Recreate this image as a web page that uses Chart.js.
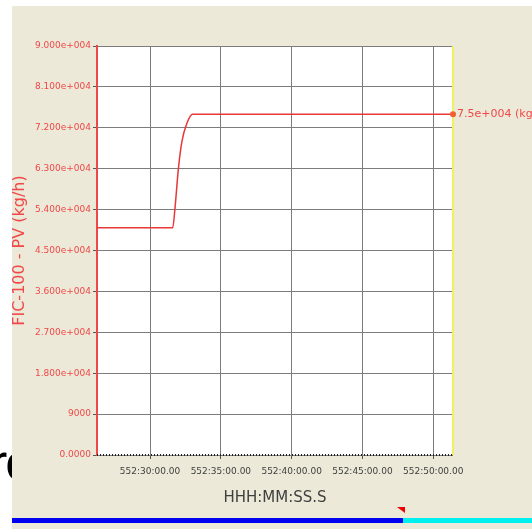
<!DOCTYPE html>
<html>
<head>
<meta charset="utf-8">
<script src="https://cdn.jsdelivr.net/npm/chart.js@4"></script>
<style>
  body { margin: 0; background: #fff; width: 532px; height: 529px; overflow: hidden; position: relative; font-family: "Liberation Sans", Arial, sans-serif; }
  #cut { position: absolute; left: -10px; top: 436px; font-size: 52px; line-height: 52px; color: #000; letter-spacing: -2px; }
  #panel { position: absolute; left: 12px; top: 6px; width: 520px; height: 523px; background: #ece9d8; }
  #statsChart { position: absolute; left: 0; top: 0; }
  .bar { position: absolute; top: 512px; height: 5px; }
  #blue { left: 0; width: 391px; background: #0000f0; }
  #cyan { left: 391px; width: 129px; background: #00f0f0; }
  #mark { position: absolute; left: 385px; top: 501px; width: 0; height: 0; border-left: 8px solid transparent; border-top: 6px solid #f00000; }
</style>
</head>
<body>
<div id="cut">re</div>
<div id="panel">
  <canvas id="statsChart" width="520" height="504"></canvas>
  <div class="bar" id="blue"></div>
  <div class="bar" id="cyan"></div>
  <div id="mark"></div>
</div>
<script>
// время в минутах после 552:00:00
const timeMin = [26.25, 31.6, 31.75, 32.0, 32.25, 32.6, 33.0, 51.4];
const pvValues = [50000, 50000, 54000, 63000, 69000, 73000, 75000, 75000];

const xTickValues = [30, 35, 40, 45, 50];
const xTickLabels = ['552:30:00.00', '552:35:00.00', '552:40:00.00', '552:45:00.00', '552:50:00.00'];
const yTickLabels = ['0.0000', '9000', '1.800e+004', '2.700e+004', '3.600e+004',
  '4.500e+004', '5.400e+004', '6.300e+004', '7.200e+004', '8.100e+004', '9.000e+004'];
const endLabel = '7.5e+004 (kg/h)';

const plotDecor = {
  id: 'plotDecor',
  beforeDraw(chart) {
    const { ctx, chartArea: a } = chart;
    ctx.save();
    ctx.fillStyle = '#fff';
    ctx.fillRect(a.left, a.top, a.right - a.left, a.bottom - a.top);
    ctx.restore();
  },
  afterDraw(chart) {
    const { ctx, chartArea: a } = chart;
    const meta = chart.getDatasetMeta(0);
    const last = meta.data[meta.data.length - 1];
    ctx.save();
    // нижняя ось пунктиром
    ctx.strokeStyle = '#222';
    ctx.lineWidth = 2;
    ctx.setLineDash([1, 2]);
    ctx.beginPath();
    ctx.moveTo(a.left, a.bottom);
    ctx.lineTo(a.right, a.bottom);
    ctx.stroke();
    ctx.setLineDash([]);
    ctx.strokeStyle = '#f0f060';
    ctx.beginPath();
    ctx.moveTo(a.right, a.top);
    ctx.lineTo(a.right, a.bottom);
    ctx.stroke();
    ctx.fillStyle = '#f06030';
    ctx.beginPath();
    ctx.arc(last.x, last.y, 3, 0, Math.PI * 2);
    ctx.fill();
    ctx.fillStyle = '#f04848';
    ctx.font = '11px "DejaVu Sans"';
    ctx.textBaseline = 'middle';
    ctx.fillText(endLabel, last.x + 4, last.y);
    ctx.restore();
  }
};

const ctx = document.getElementById('statsChart').getContext('2d');

new Chart(ctx, {
  type: 'line',
  data: {
    datasets: [{
      data: timeMin.map((t, i) => ({ x: t, y: pvValues[i] })),
      borderColor: '#e83838',
      borderWidth: 1.5,
      pointRadius: 0,
      cubicInterpolationMode: 'monotone',
      clip: false
    }]
  },
  options: {
    responsive: false,
    animation: false,
    layout: { padding: { left: 0, top: 40, right: 79, bottom: 0 } },
    plugins: {
      legend: { display: false },
      tooltip: { enabled: false }
    },
    scales: {
      x: {
        type: 'linear',
        min: 26.25,
        max: 51.4,
        afterBuildTicks: (scale) => {
          scale.ticks = xTickValues.map(v => ({ value: v }));
        },
        afterFit: (scale) => { scale.height = 55; },
        grid: { color: '#7c7c7c', tickColor: '#555', tickLength: 4 },
        border: { display: false },
        ticks: {
          padding: 7,
          maxRotation: 0,
          color: '#404040',
          font: { family: 'DejaVu Sans', size: 9 },
          callback: (v) => xTickLabels[xTickValues.indexOf(v)]
        },
        title: {
          display: true,
          text: 'HHH:MM:SS.S',
          color: '#404040',
          font: { family: 'DejaVu Sans', size: 15 },
          padding: { top: 0, bottom: 3 }
        }
      },
      y: {
        min: 0,
        max: 90000,
        afterFit: (scale) => { scale.width = 85; },
        grid: { color: '#7c7c7c', tickColor: '#555', tickLength: 4 },
        border: { color: '#f04848', width: 2 },
        ticks: {
          stepSize: 9000,
          padding: 2,
          color: '#f04848',
          font: { family: 'DejaVu Sans', size: 9 },
          callback: (v) => yTickLabels[Math.round(v / 9000)]
        },
        title: {
          display: true,
          text: 'FIC-100 - PV (kg/h)',
          color: '#f04848',
          font: { family: 'DejaVu Sans', size: 16, lineHeight: 1 },
          padding: 0
        }
      }
    }
  },
  plugins: [plotDecor]
});
</script>
</body>
</html>
